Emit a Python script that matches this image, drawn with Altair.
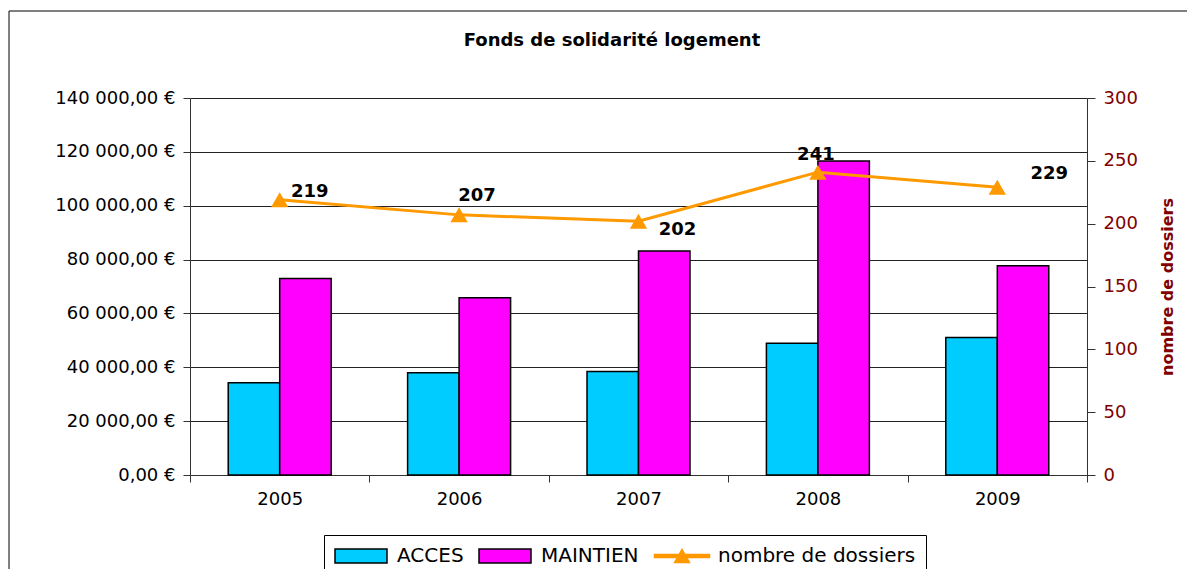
import altair as alt
import pandas as pd

# ---- data ----
years = ["2005", "2006", "2007", "2008", "2009"]
acces = [34300, 38000, 38400, 48900, 51100]
maintien = [73000, 65800, 83200, 116600, 77700]
dossiers = [219, 207, 202, 241, 229]
series_names = ["ACCES", "MAINTIEN", "nombre de dossiers"]
title_text = "Fonds de solidarité logement"
right_title = "nombre de dossiers"
left_ticks = [0, 20000, 40000, 60000, 80000, 100000, 120000, 140000]
right_ticks = [0, 50, 100, 150, 200, 250, 300]

bars_df = pd.DataFrame({
    "year": years * 2,
    "series": ["ACCES"] * len(years) + ["MAINTIEN"] * len(years),
    "amount": acces + maintien,
})
line_df = pd.DataFrame({"year": years, "series": "nombre de dossiers", "count": dossiers})
legend_df = pd.DataFrame({"series": series_names})

# ---- styling ----
FONT = "DejaVu Sans"
COLORS = ["#00CCFF", "#FF00FF", "#FF9900"]
DARKRED = "#800000"
W, H = 897, 377
PAD_L, PAD_T = 182, 90

# label offsets (pixels) for the data labels, like the reference
label_offsets = {"2005": (30, -8), "2006": (18, -19), "2007": (39, 9), "2008": (-2, -17), "2009": (52, -13)}

x_enc = alt.X(
    "year:N",
    sort=years,
    scale=alt.Scale(paddingInner=0, paddingOuter=0),
    axis=alt.Axis(title=None, labelAngle=0, tickBand="extent", labelFont=FONT, labelFontSize=18,
                  labelColor="black", labelPadding=8, tickSize=7, tickColor="#333",
                  domainColor="#333", grid=False),
)
color_scale = alt.Scale(domain=series_names, range=COLORS)

rect_sym = "M-2.6,-0.7H2.6V0.7H-2.6Z"
line_sym = "M-2.75,-0.15H2.75V0.15H-2.75Z M-0.75,0.65L0,-0.65L0.75,0.65Z"
leg = alt.Legend(title=None, orient="none", legendX=134, legendY=437, direction="horizontal",
                 labelFont=FONT, labelFontSize=20, labelColor="black", labelOffset=25,
                 labelLimit=400, symbolOffset=16, symbolSize=400, symbolStrokeWidth=1.5,
                 symbolOpacity=1, columnPadding=12, padding=10, strokeColor="black",
                 fillColor="white")

bars = alt.Chart(bars_df).mark_bar(stroke="black", strokeWidth=1.5).encode(
    x=x_enc,
    xOffset=alt.XOffset("series:N", scale=alt.Scale(domain=["ACCES", "MAINTIEN"], paddingInner=0, paddingOuter=0.742)),
    y=alt.Y("amount:Q", scale=alt.Scale(domain=[0, 140000], nice=False),
            axis=alt.Axis(orient="left", title=None, values=left_ticks,
                          labelExpr="replace(replace(format(datum.value, ',.2f'), regexp(',', 'g'), ' '), '.', ',') + ' €'",
                          labelFont=FONT, labelFontSize=18, labelColor="black", labelPadding=8,
                          tickSize=7, tickColor="#333", domainColor="#333",
                          grid=True, gridColor="#222", gridWidth=1)),
    color=alt.Color("series:N", scale=color_scale, legend=leg),
)

y_right = alt.Y("count:Q", scale=alt.Scale(domain=[0, 300], nice=False),
                axis=alt.Axis(orient="right", title=right_title, values=right_ticks,
                              labelFont=FONT, labelFontSize=18, labelColor=DARKRED, labelPadding=8,
                              tickSize=8, tickColor="#333", domainColor="#333", grid=False,
                              titleFont=FONT, titleFontSize=16, titleFontWeight="bold",
                              titleColor=DARKRED, titleAngle=270, titlePadding=38))

line = alt.Chart(line_df).mark_line(color="#FF9900", strokeWidth=3).encode(x=x_enc, y=y_right)
pts = alt.Chart(line_df).mark_point(shape="triangle-up", filled=True, color="#FF9900",
                                    size=300, opacity=1).encode(x=x_enc, y=y_right)
texts = [
    alt.Chart(line_df).transform_filter(alt.datum.year == yr).mark_text(
        font=FONT, fontSize=18, fontWeight="bold", color="black",
        dx=label_offsets[yr][0], dy=label_offsets[yr][1]
    ).encode(x=x_enc, y=y_right, text="count:Q")
    for yr in years
]
right_layer = alt.layer(line, pts, *texts)

# legend-only layer (its marks are invisible)
legend_layer = alt.Chart(legend_df).mark_point(filled=True, opacity=0, size=400).encode(
    color=alt.Color("series:N", scale=color_scale, legend=leg),
    shape=alt.Shape("series:N", scale=alt.Scale(domain=series_names, range=[rect_sym, rect_sym, line_sym]), legend=leg),
    stroke=alt.Stroke("series:N", scale=alt.Scale(domain=series_names, range=["black", "black", "#FF9900"]), legend=leg),
)

deco_df = pd.DataFrame({"t": [title_text]})
frame = alt.Chart(deco_df).mark_rect(fillOpacity=0, stroke="black", strokeWidth=1).encode(
    x=alt.value(9 - PAD_L - 8), x2=alt.value(1190 - PAD_L - 8),
    y=alt.value(11 - PAD_T - 8), y2=alt.value(600 - PAD_T - 8),
)
title = alt.Chart(deco_df).mark_text(font=FONT, fontSize=18, fontWeight="bold", color="black",
                                     align="center", baseline="middle").encode(
    x=alt.value(612 - PAD_L - 8), y=alt.value(41 - PAD_T - 8), text="t:N")

chart = alt.layer(frame, title, bars, right_layer, legend_layer).resolve_scale(
    y="independent"
).properties(
    width=W, height=H,
    autosize=alt.AutoSizeParams(type="none"),
    padding={"left": PAD_L, "top": PAD_T, "right": 100, "bottom": 561 - PAD_T - H},
).configure_view(stroke=None).configure(background="white")

chart.save("out.html", embed_options={"renderer": "svg", "actions": False})
